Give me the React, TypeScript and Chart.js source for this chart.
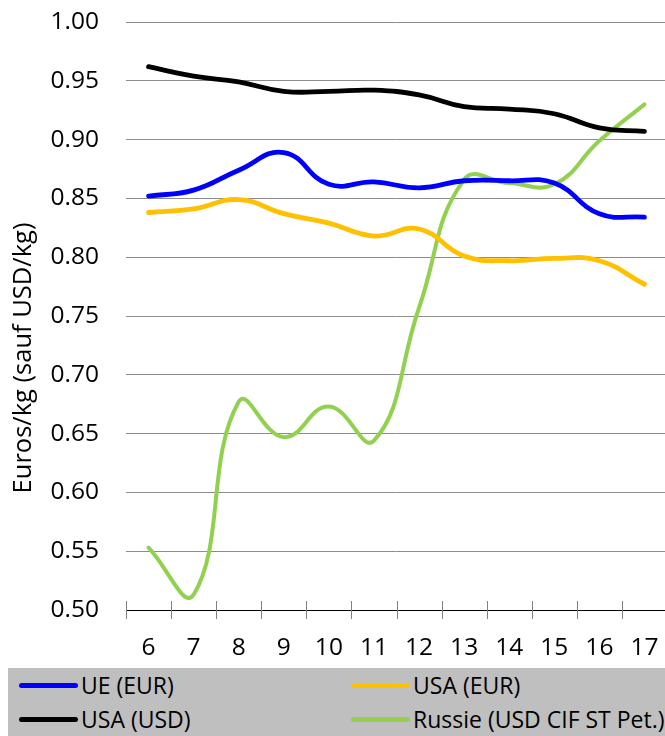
import React, { useEffect, useRef } from "react";
import { Chart, registerables } from "chart.js";

Chart.register(...registerables);

const categories = ["6", "7", "8", "9", "10", "11", "12", "13", "14", "15", "16", "17"];
const ueEur = [0.852, 0.857, 0.874, 0.889, 0.862, 0.864, 0.859, 0.865, 0.865, 0.863, 0.837, 0.834];
const usaEur = [0.838, 0.841, 0.849, 0.837, 0.829, 0.818, 0.824, 0.801, 0.797, 0.799, 0.797, 0.777];
const usaUsd = [0.962, 0.954, 0.949, 0.941, 0.941, 0.942, 0.938, 0.928, 0.926, 0.922, 0.910, 0.907];
const russie = [0.553, 0.513, 0.677, 0.647, 0.673, 0.644, 0.757, 0.866, 0.863, 0.862, 0.899, 0.930];

const seriesNames = ["UE (EUR)", "USA (EUR)", "USA (USD)", "Russie (USD CIF ST Pet.)"];
const seriesColors = ["#0000ff", "#ffc000", "#000000", "#92d050"];
const seriesData = [ueEur, usaEur, usaUsd, russie];

const yTitle = "Euros/kg (sauf USD/kg)";
const FONT = "'Open Sans', 'Noto Sans', sans-serif";

const extrasPlugin = {
  id: "extras",
  afterDraw(chart: any) {
    const ctx = chart.ctx;
    const area = chart.chartArea;
    const xs = chart.scales.x;
    const yBottom = Math.round(chart.scales.y.getPixelForValue(0.5));
    ctx.save();
    // tick marks crossing the x axis
    ctx.strokeStyle = "#808080";
    ctx.lineWidth = 1;
    const n = categories.length;
    const step = (area.right - area.left) / n;
    for (let i = 0; i <= n; i++) {
      const x = Math.round(area.left + i * step) + 0.5;
      ctx.beginPath();
      ctx.moveTo(x, yBottom - 9);
      ctx.lineTo(x, yBottom + 9);
      ctx.stroke();
    }
    // x category labels (baseline placed explicitly)
    ctx.fillStyle = "#000";
    ctx.font = `24.5px ${FONT}`;
    ctx.textAlign = "center";
    ctx.textBaseline = "alphabetic";
    xs.ticks.forEach((t: any, i: number) => {
      ctx.fillText(String(xs.getLabelForValue(t.value)), xs.getPixelForTick(i), yBottom + 45);
    });
    // y title
    ctx.font = `25.5px ${FONT}`;
    ctx.translate(31, 358);
    ctx.rotate(-Math.PI / 2);
    ctx.fillText(yTitle, 0, 0);
    ctx.restore();
  },
};

export default function App() {
  const ref = useRef<HTMLCanvasElement>(null);
  useEffect(() => {
    const canvas = ref.current!;
    const chart = new Chart(canvas, {
      type: "line",
      data: {
        labels: categories,
        datasets: seriesData.map((d, i) => ({
          label: seriesNames[i],
          data: d,
          borderColor: seriesColors[i],
          backgroundColor: seriesColors[i],
          borderWidth: i === 3 ? 4 : 4.8,
          pointRadius: 0,
          tension: 0.45,
          fill: false,
          borderCapStyle: "round" as const,
        })),
      },
      options: {
        responsive: false,
        animation: false,
        devicePixelRatio: 1,
        layout: { padding: { top: 22, left: 0, right: 0, bottom: 0 } },
        plugins: { legend: { display: false }, tooltip: { enabled: false } },
        scales: {
          x: {
            offset: true,
            grid: { display: false, drawTicks: false },
            border: { display: true, color: "#000", width: 1 },
            ticks: { display: false, autoSkip: false },
            afterFit(scale: any) {
              scale.height = 58;
              scale.paddingLeft = 0;
              scale.paddingRight = 0;
            },
          },
          y: {
            min: 0.5,
            max: 1.0,
            grid: { color: "#8c8c8c", lineWidth: 1, drawTicks: false },
            border: { display: false },
            ticks: {
              stepSize: 0.05,
              padding: 27,
              color: "#000",
              font: { family: FONT, size: 24.5 },
              callback: (v: any) => Number(v).toFixed(2),
            },
            afterFit(scale: any) {
              scale.width = 126;
              scale.paddingTop = 0;
              scale.paddingBottom = 0;
            },
          },
        },
      },
      plugins: [extrasPlugin],
    });
    return () => chart.destroy();
  }, []);

  return (
    <div
      style={{
        position: "absolute",
        left: 0,
        top: 0,
        width: 665,
        height: 736,
        overflow: "hidden",
        background: "#fff",
      }}
    >
      <canvas ref={ref} width={667} height={668} style={{ display: "block" }} />
      <div
        style={{
          position: "absolute",
          left: 8,
          top: 668,
          width: 670,
          height: 68,
          background: "#bfbfbf",
          fontFamily: FONT,
          fontSize: 23,
          color: "#000",
        }}
      >
        {seriesNames.map((name, i) => (
          <div
            key={name}
            style={{
              position: "absolute",
              left: i % 2 === 0 ? 11 : 343,
              top: i < 2 ? 1 : 35,
              height: 32,
              display: "flex",
              alignItems: "center",
              whiteSpace: "nowrap",
            }}
          >
            <span
              style={{
                display: "inline-block",
                width: 59,
                height: 5,
                borderRadius: 3,
                background: seriesColors[i],
                marginRight: 3,
              }}
            />
            <span>{name}</span>
          </div>
        ))}
      </div>
    </div>
  );
}
